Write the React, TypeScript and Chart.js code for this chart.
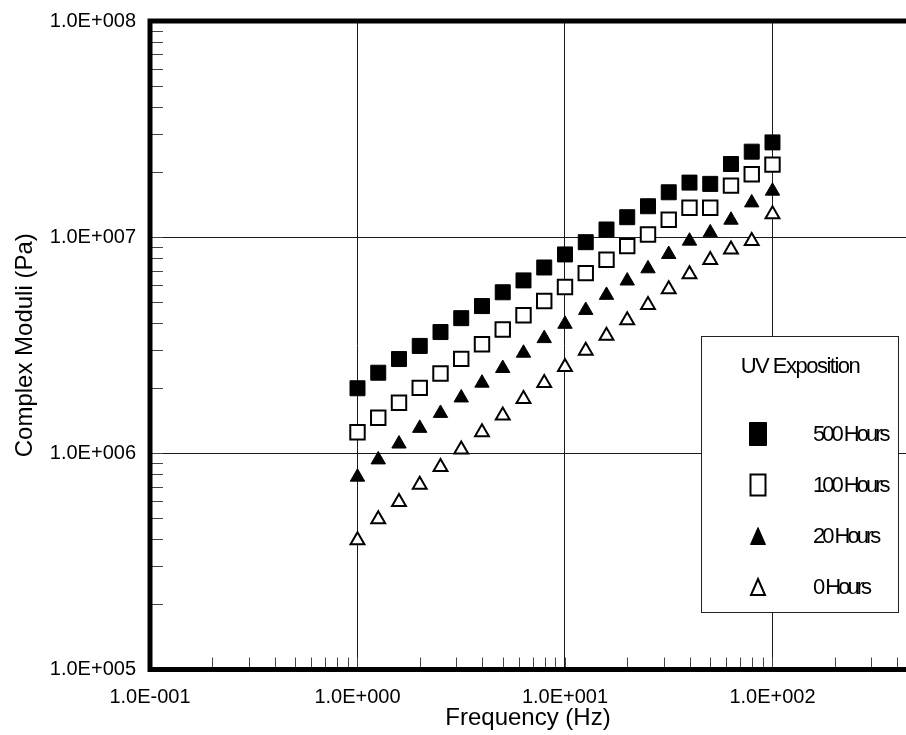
import React, { useEffect, useRef } from 'react';
import { Chart, registerables } from 'chart.js';

Chart.register(...registerables);

// ---------- data ----------
const frequencyHz = [1, 1.259, 1.585, 1.995, 2.512, 3.162, 3.981, 5.012, 6.31, 7.943, 10, 12.59, 15.85, 19.95, 25.12, 31.62, 39.81, 50.12, 63.1, 79.43, 100];

const hours500 = [2.0e6, 2.36e6, 2.73e6, 3.14e6, 3.64e6, 4.22e6, 4.8e6, 5.56e6, 6.31e6, 7.24e6, 8.32e6, 9.48e6, 1.085e7, 1.237e7, 1.39e7, 1.613e7, 1.788e7, 1.764e7, 2.18e7, 2.486e7, 2.744e7];
const hours100 = [1.252e6, 1.461e6, 1.714e6, 2.008e6, 2.342e6, 2.735e6, 3.197e6, 3.737e6, 4.352e6, 5.066e6, 5.879e6, 6.82e6, 7.865e6, 9.09e6, 1.029e7, 1.203e7, 1.367e7, 1.367e7, 1.732e7, 1.953e7, 2.165e7];
const hours20 = [7.77e5, 9.34e5, 1.106e6, 1.307e6, 1.533e6, 1.807e6, 2.115e6, 2.473e6, 2.91e6, 3.4e6, 3.96e6, 4.59e6, 5.39e6, 6.28e6, 7.15e6, 8.33e6, 9.6e6, 1.049e7, 1.2e7, 1.443e7, 1.635e7];
const hours0 = [3.96e5, 4.95e5, 5.95e5, 7.15e5, 8.64e5, 1.042e6, 1.252e6, 1.496e6, 1.784e6, 2.113e6, 2.508e6, 2.985e6, 3.5e6, 4.13e6, 4.85e6, 5.74e6, 6.73e6, 7.85e6, 8.78e6, 9.6e6, 1.275e7];

const seriesLabels = ['500 Hours', '100 Hours', '20 Hours', '0 Hours'];
const legendTitle = 'UV Exposition';

const xMajorValues = [0.1, 1, 10, 100];
const xTickLabels = ['1.0E-001', '1.0E+000', '1.0E+001', '1.0E+002'];
const yMajorValues = [1e5, 1e6, 1e7, 1e8];
const yTickLabels = ['1.0E+005', '1.0E+006', '1.0E+007', '1.0E+008'];

const xTitle = 'Frequency (Hz)';
const yTitle = 'Complex Moduli (Pa)';

const X_MIN = 0.1;
const X_MAX = 440;
const Y_MIN = 1e5;
const Y_MAX = 1e8;

// ---------- helpers ----------
const FONT = "'Liberation Sans', Arial, Helvetica, sans-serif";

function buildLogTicks(min: number, max: number) {
  const out: { value: number }[] = [];
  const k0 = Math.floor(Math.log10(min));
  const k1 = Math.ceil(Math.log10(max));
  for (let k = k0; k <= k1; k++) {
    for (let m = 1; m <= 9; m++) {
      const v = Number((m * Math.pow(10, k)).toPrecision(12));
      if (v >= min * (1 - 1e-9) && v <= max * (1 + 1e-9)) out.push({ value: v });
    }
  }
  return out;
}

function majorIndex(v: number, majors: number[]) {
  for (let i = 0; i < majors.length; i++) {
    if (Math.abs(v / majors[i] - 1) < 1e-6) return i;
  }
  return -1;
}

function toPoints(ys: number[]) {
  return frequencyHz.map((f, i) => ({ x: f, y: ys[i] }));
}

function drawMarker(ctx: CanvasRenderingContext2D, style: string, filled: boolean, cx: number, cy: number) {
  ctx.save();
  ctx.fillStyle = filled ? '#000' : '#fff';
  ctx.strokeStyle = '#000';
  ctx.lineWidth = filled ? 1 : 2;
  ctx.beginPath();
  if (style === 'rect') {
    const w = filled ? 17 : 15;
    const h = filled ? 23 : 21;
    ctx.rect(cx - w / 2, cy - h / 2, w, h);
  } else {
    const w = filled ? 15 : 14;
    const h = filled ? 17 : 16;
    ctx.moveTo(cx, cy - h / 2);
    ctx.lineTo(cx + w / 2, cy + h / 2);
    ctx.lineTo(cx - w / 2, cy + h / 2);
    ctx.closePath();
  }
  ctx.fill();
  ctx.stroke();
  ctx.restore();
}

const framePlugin = {
  id: 'frameAndLegend',
  beforeDatasetsDraw(chart: any) {
    const { ctx, chartArea: a, scales } = chart;
    const xs = scales.x;
    const ys = scales.y;
    ctx.save();
    ctx.strokeStyle = '#444';
    ctx.lineWidth = 1;
    ctx.beginPath();
    ys.ticks.forEach((t: any) => {
      const y = Math.round(ys.getPixelForValue(t.value)) + 0.5;
      ctx.moveTo(a.left, y);
      ctx.lineTo(a.left + 13, y);
    });
    xs.ticks.forEach((t: any) => {
      const x = Math.round(xs.getPixelForValue(t.value)) + 0.5;
      ctx.moveTo(x, a.bottom);
      ctx.lineTo(x, a.bottom - 12);
    });
    ctx.stroke();
    ctx.restore();
  },
  afterDatasetsDraw(chart: any) {
    const { ctx, chartArea: a } = chart;
    ctx.save();
    // thick frame (left, top, bottom)
    ctx.strokeStyle = '#000';
    ctx.lineWidth = 5;
    ctx.lineJoin = 'miter';
    ctx.beginPath();
    ctx.moveTo(a.right + 5, a.top);
    ctx.lineTo(a.left, a.top);
    ctx.lineTo(a.left, a.bottom);
    ctx.lineTo(a.right + 5, a.bottom);
    ctx.stroke();

    // legend box
    const bx = 701.5, by = 336.5, bw = 197, bh = 276;
    ctx.fillStyle = '#fff';
    ctx.fillRect(bx, by, bw, bh);
    ctx.strokeStyle = '#222';
    ctx.lineWidth = 1;
    ctx.strokeRect(bx, by, bw, bh);

    ctx.fillStyle = '#000';
    ctx.textBaseline = 'middle';
    ctx.font = `22px ${FONT}`;
    (ctx as any).letterSpacing = '-1.5px';
    ctx.textAlign = 'center';
    ctx.fillText(legendTitle, bx + bw / 2, 367);

    const rowY = [434, 485, 536, 587];
    ctx.textAlign = 'left';
    (ctx as any).letterSpacing = '-3px';
    chart.data.datasets.forEach((ds: any, i: number) => {
      const filled = ds.backgroundColor === '#000';
      drawMarker(ctx, ds.pointStyle, filled, 758, rowY[i]);
      ctx.fillStyle = '#000';
      ctx.fillText(ds.label, 813, rowY[i] + 1);
    });
    (ctx as any).letterSpacing = '0px';
    ctx.restore();
  },
};

export default function App() {
  const ref = useRef<HTMLCanvasElement | null>(null);

  useEffect(() => {
    if (!ref.current) return;
    const common = { showLine: false, borderColor: '#000' };
    const chart = new Chart(ref.current, {
      type: 'scatter',
      data: {
        datasets: [
          { ...common, label: seriesLabels[0], data: toPoints(hours500), pointStyle: 'rect', pointRadius: 10.6, backgroundColor: '#000', borderWidth: 1 },
          { ...common, label: seriesLabels[1], data: toPoints(hours100), pointStyle: 'rect', pointRadius: 10.2, backgroundColor: '#fff', borderWidth: 2 },
          { ...common, label: seriesLabels[2], data: toPoints(hours20), pointStyle: 'triangle', pointRadius: 8.3, backgroundColor: '#000', borderWidth: 1 },
          { ...common, label: seriesLabels[3], data: toPoints(hours0), pointStyle: 'triangle', pointRadius: 8, backgroundColor: '#fff', borderWidth: 2 },
        ] as any,
      },
      options: {
        animation: false,
        responsive: false,
        devicePixelRatio: 1,
        layout: { autoPadding: false, padding: { top: 21, right: 0, left: 0, bottom: 0 } },
        plugins: { legend: { display: false }, tooltip: { enabled: false } },
        elements: { point: { hoverRadius: 0 } },
        scales: {
          x: {
            type: 'logarithmic',
            min: X_MIN,
            max: X_MAX,
            afterBuildTicks: (s: any) => { s.ticks = buildLogTicks(X_MIN, X_MAX); },
            afterFit: (s: any) => { s.height = 65.5; s.paddingRight = 0; s.paddingLeft = 0; },
            grid: {
              drawTicks: false,
              lineWidth: 1,
              color: (c: any) => (c.tick && majorIndex(c.tick.value, xMajorValues) >= 0 ? '#1a1a1a' : 'rgba(0,0,0,0)'),
            },
            border: { display: false },
            ticks: {
              autoSkip: false,
              maxRotation: 0,
              minRotation: 0,
              padding: 16,
              color: '#000',
              font: { family: FONT, size: 20 },
              callback: (v: any) => {
                const i = majorIndex(Number(v), xMajorValues);
                return i >= 0 ? xTickLabels[i] : '';
              },
            },
            title: { display: true, text: xTitle, color: '#000', font: { family: FONT, size: 24 }, padding: { top: 0, bottom: 2 } },
          },
          y: {
            type: 'logarithmic',
            min: Y_MIN,
            max: Y_MAX,
            afterBuildTicks: (s: any) => { s.ticks = buildLogTicks(Y_MIN, Y_MAX); },
            afterFit: (s: any) => { s.width = 150; s.paddingTop = 0; s.paddingBottom = 0; },
            grid: {
              drawTicks: false,
              lineWidth: 1,
              color: (c: any) => (c.tick && majorIndex(c.tick.value, yMajorValues) >= 0 ? '#1a1a1a' : 'rgba(0,0,0,0)'),
            },
            border: { display: false },
            ticks: {
              autoSkip: false,
              padding: 14,
              color: '#000',
              font: { family: FONT, size: 20 },
              callback: (v: any) => {
                const i = majorIndex(Number(v), yMajorValues);
                return i >= 0 ? yTickLabels[i] : '';
              },
            },
            title: { display: true, text: yTitle, color: '#000', font: { family: FONT, size: 24 }, padding: { top: 10.5, bottom: 0 } },
          },
        },
      } as any,
      plugins: [framePlugin as any],
    });
    return () => chart.destroy();
  }, []);

  return (
    <div style={{ position: 'absolute', left: 0, top: 0, width: 906, height: 735, overflow: 'hidden', background: '#fff' }}>
      <canvas ref={ref} width={906} height={735} style={{ display: 'block', width: 906, height: 735 }} />
    </div>
  );
}
